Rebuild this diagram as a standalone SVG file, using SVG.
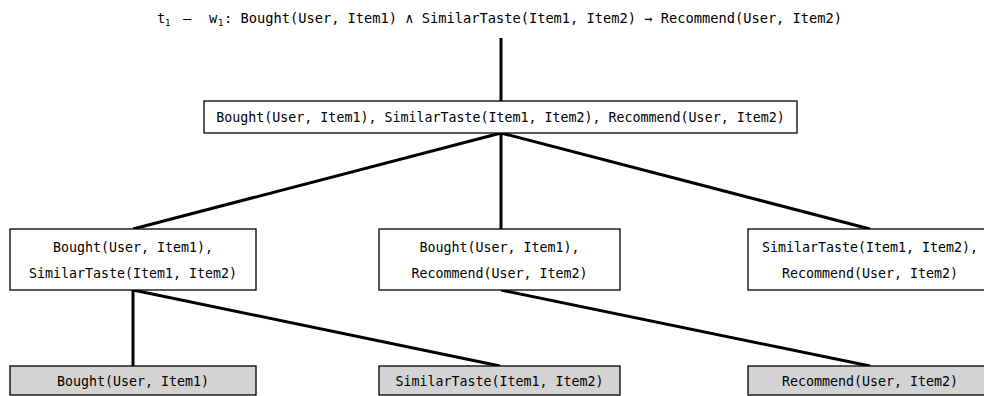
<svg xmlns="http://www.w3.org/2000/svg" width="984" height="396" viewBox="0 0 984 396">
<style>
text{font-family:"DejaVu Sans Mono","Liberation Mono",monospace;font-size:13.3px;fill:#000;text-anchor:middle}
.title text{text-anchor:start;font-size:13.7px}
.title text.sub{font-size:9px}
.box{fill:#fff;stroke:#000;stroke-width:1.3}
.leaf{fill:#d3d3d3;stroke:#000;stroke-width:1.3}
.edge{stroke:#000;stroke-width:3;fill:none}
</style>
<rect width="984" height="396" fill="#fff"/>
<g id="title" class="title">
<text x="157" y="23">t</text>
<text class="sub" x="165" y="26">1</text>
<text x="183" y="23">–</text>
<text x="209" y="23">w</text>
<text class="sub" x="218" y="26">1</text>
<text x="224" y="23">: Bought(User, Item1) ∧ SimilarTaste(Item1, Item2) → Recommend(User, Item2)</text>
</g>
<g id="connectors">
<line class="edge" x1="501" y1="38" x2="501" y2="101"/>
<line class="edge" x1="501" y1="133" x2="133" y2="229"/>
<line class="edge" x1="501" y1="133" x2="501" y2="229"/>
<line class="edge" x1="501" y1="133" x2="870" y2="229"/>
<line class="edge" x1="133" y1="290" x2="133" y2="366"/>
<line class="edge" x1="133" y1="290" x2="500" y2="366"/>
<line class="edge" x1="501" y1="290" x2="870" y2="366"/>
</g>
<g id="root">
<rect class="box" x="204" y="101" width="593" height="32"/>
<text x="500.5" y="122">Bought(User, Item1), SimilarTaste(Item1, Item2), Recommend(User, Item2)</text>
</g>
<g id="n-bought-similar">
<rect class="box" x="10" y="229" width="246" height="61"/>
<text x="133" y="252">Bought(User, Item1),</text>
<text x="133" y="278">SimilarTaste(Item1, Item2)</text>
</g>
<g id="n-bought-recommend">
<rect class="box" x="379" y="229" width="241" height="61"/>
<text x="499.5" y="252">Bought(User, Item1),</text>
<text x="499.5" y="278">Recommend(User, Item2)</text>
</g>
<g id="n-similar-recommend">
<rect class="box" x="748" y="229" width="244" height="61"/>
<text x="870" y="252">SimilarTaste(Item1, Item2),</text>
<text x="870" y="278">Recommend(User, Item2)</text>
</g>
<g id="leaf-bought">
<rect class="leaf" x="10" y="366" width="246" height="29"/>
<text x="133" y="386">Bought(User, Item1)</text>
</g>
<g id="leaf-similar">
<rect class="leaf" x="379" y="366" width="241" height="29"/>
<text x="499.5" y="386">SimilarTaste(Item1, Item2)</text>
</g>
<g id="leaf-recommend">
<rect class="leaf" x="748" y="366" width="244" height="29"/>
<text x="870" y="386">Recommend(User, Item2)</text>
</g>
</svg>
